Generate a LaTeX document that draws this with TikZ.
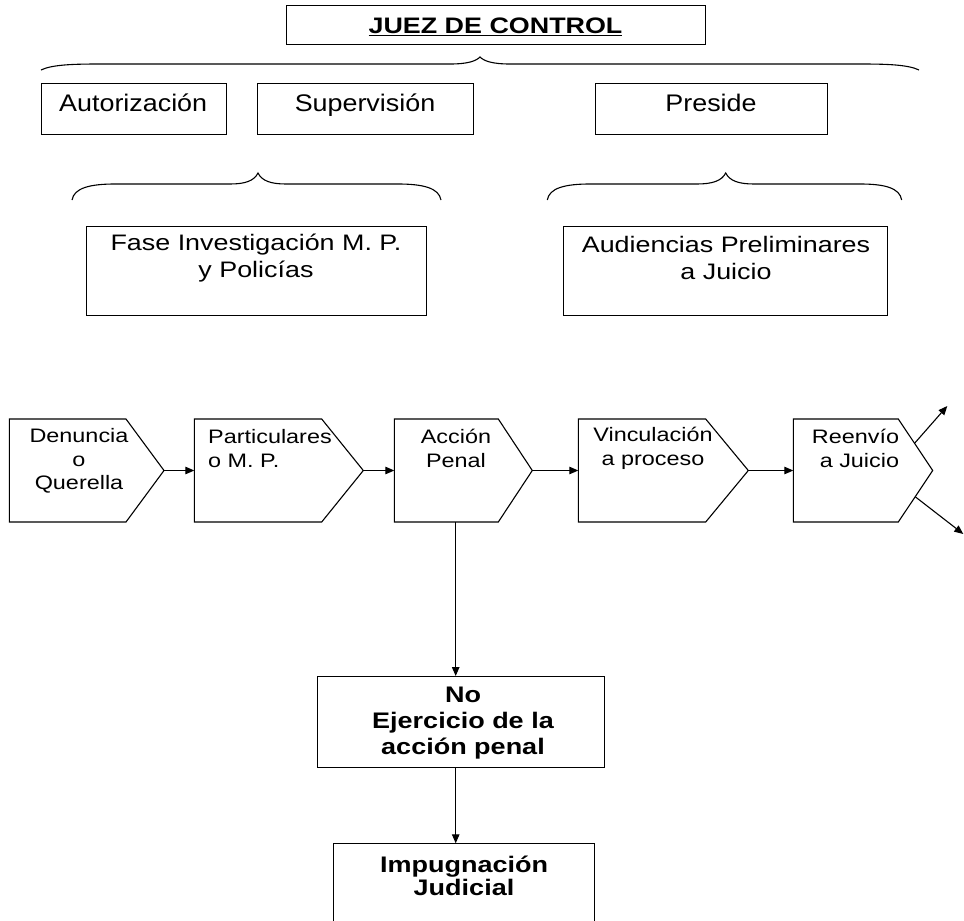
\documentclass[tikz,border=0pt]{standalone}
\usepackage{fontspec}
\setmainfont{Liberation Sans}[FakeStretch=1.2]
\newfontfamily\topfam{Liberation Sans}[FakeStretch=1.12]
\usetikzlibrary{arrows.meta,calc}
\newcommand\pentshape[4]{%
  \coordinate (#1nw) at (#2,419);
  \coordinate (#1ne) at (#3,419);
  \coordinate (#1tip) at (#4,470.5);
  \coordinate (#1se) at (#3,522);
  \coordinate (#1sw) at (#2,522);
  \coordinate (#1w) at (#2,470.5);
  \draw[outline] (#1nw) -- (#1ne) -- (#1tip) -- (#1se) -- (#1sw) -- cycle;}
\begin{document}
\begin{tikzpicture}[x=1pt,y=-1pt,
  outline/.style={draw=black, line width=1.1pt, line join=miter},
  box/.style={draw=black, line width=1.1pt, inner sep=0pt, anchor=north west},
  brace/.style={draw=black, line width=1.1pt},
  conn/.style={draw=black, line width=1.1pt, -{Triangle[length=9pt,width=7.5pt]}},
  headtxt/.style={font=\topfam\fontsize{24}{28}\selectfont, inner sep=0pt, anchor=base},
  toptxt/.style={font=\fontsize{22.4}{27}\selectfont, inner sep=0pt, align=center},
  rowtxt/.style={font=\fontsize{19.5}{23.5}\selectfont, inner sep=0pt, align=center},
  boldtxt/.style={font=\fontsize{22.5}{26}\selectfont\bfseries, inner sep=0pt, align=center}]
\useasboundingbox (0,0) rectangle (964,921);
\clip (0,0) rectangle (964,921);

% --- top
\node[box, minimum width=419pt, minimum height=39pt] (juez) at (286,5) {};
\node[inner sep=0pt, anchor=base, font=\fontsize{22.4}{27}\selectfont\bfseries] (juezT) at (495.5,33.3) {\underline{JUEZ DE CONTROL}};

\draw[brace] (41,70) .. controls (52,64.5) and (75,64) .. (100,64) -- (450,64)
  .. controls (468,64) and (476,61) .. (480,57)
  .. controls (484,61) and (492,64) .. (510,64) -- (860,64)
  .. controls (885,64) and (908,64.5) .. (919,70);

\node[box, minimum width=185pt, minimum height=51.6pt] (aut) at (40.7,82.7) {};
\node[headtxt] (autT) at (133.2,111.7) {Autorización};
\node[box, minimum width=215.5pt, minimum height=51.6pt] (sup) at (257.3,82.7) {};
\node[headtxt] (supT) at (365,111.7) {Supervisión};
\node[box, minimum width=231.8pt, minimum height=51.6pt] (pre) at (595.2,82.7) {};
\node[headtxt] (preT) at (711,111.7) {Preside};

\draw[brace] (72,200) .. controls (74,188) and (90,184) .. (115,184) -- (230,184)
  .. controls (245,184) and (254,181) .. (258,173)
  .. controls (262,181) and (271,184) .. (286,184) -- (398,184)
  .. controls (423,184) and (439,188) .. (441,200);
\draw[brace] (547.3,200) .. controls (549.3,188) and (565,184) .. (590,184) -- (697,184)
  .. controls (712,184) and (721.7,181) .. (725.7,173)
  .. controls (729.7,181) and (739,184) .. (754,184) -- (860,184)
  .. controls (885,184) and (899.7,188) .. (901.7,200);

\node[box, minimum width=340pt, minimum height=89pt] (fase) at (86,226) {};
\node[toptxt] (faseT) at (256,258) {Fase Investigación M. P.\\y Policías};
\node[box, minimum width=324pt, minimum height=89pt] (aud) at (562.7,226) {};
\node[toptxt] (audT) at (726,258) {Audiencias Preliminares\\a Juicio};

% --- row
\pentshape{p1}{9.3}{126}{164}
\pentshape{p2}{194.3}{321.7}{363.3}
\pentshape{p3}{394.3}{498.3}{532.3}
\pentshape{p4}{578.3}{705.7}{748.3}
\pentshape{p5}{793.3}{898.3}{932.7}

\node[rowtxt] (p1T) at (79,461) {Denuncia\\o\\Querella};
\node[rowtxt, align=left, anchor=west] (p2T) at (208,448.5) {Particulares\\o M. P.};
\node[rowtxt] (p3T) at (456,448.5) {Acción\\Penal};
\node[rowtxt] (p4T) at (653,448.5) {Vinculación\\a proceso};
\node[rowtxt, align=right, anchor=east] (p5T) at (899.3,448.5) {Reenvío\\a Juicio};

\draw[conn] (p1tip) -- (p2w);
\draw[conn] (p2tip) -- (p3w);
\draw[conn] (p3tip) -- (p4w);
\draw[conn] (p4tip) -- (p5w);

\coordinate (upS) at ($(p5ne)!0.472!(p5tip)$);
\coordinate (loS) at ($(p5tip)!0.509!(p5se)$);
\coordinate (upE) at (947.3,406);
\coordinate (loE) at (963.3,534);
\draw[conn] (upS) -- (upE);
\draw[conn] (loS) -- (loE);

% --- bottom
\coordinate (p3bot) at (455.7,522);
\node[box, minimum width=287pt, minimum height=90.7pt] (no) at (317.3,676) {};
\node[boldtxt] (noT) at (463,723) {No\\Ejercicio de la\\acción penal};
\node[box, minimum width=261pt, minimum height=100pt] (imp) at (332.7,843.3) {};
\node[boldtxt, font=\fontsize{22.5}{23.5}\selectfont\bfseries] (impT) at (464,876) {Impugnación\\Judicial};

\draw[conn] (p3bot) -- (p3bot |- no.north);
\draw[conn] (p3bot |- no.south) -- (p3bot |- imp.north);
\end{tikzpicture}
\end{document}
